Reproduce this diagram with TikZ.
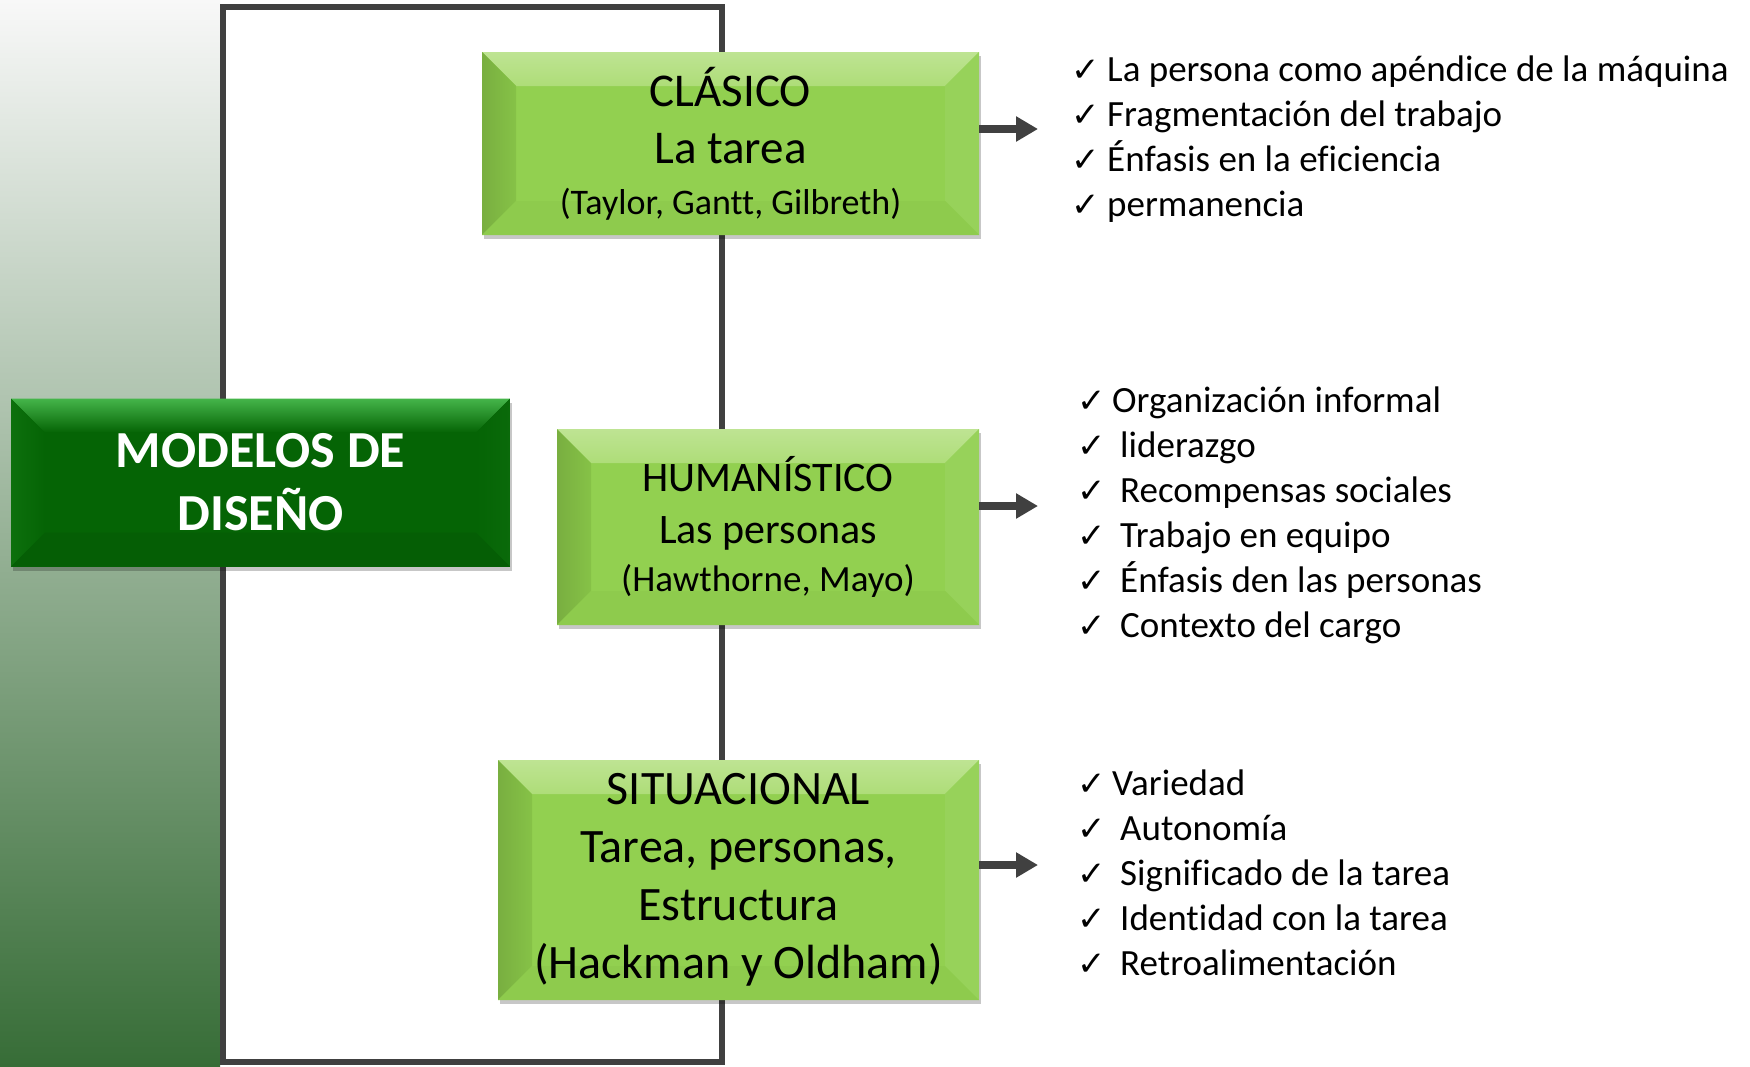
\documentclass[tikz,border=0pt]{standalone}
\usepackage{fontspec}
\setmainfont{Carlito}[Ligatures=NoCommon]
\newfontfamily\checkfont{DejaVu Sans}
\usetikzlibrary{arrows.meta, shadows}

\definecolor{hoja}{HTML}{92D050}
\definecolor{hojasup}{HTML}{AEDD78}
\definecolor{hojaizq}{HTML}{86C247}
\definecolor{hojader}{HTML}{97D25A}
\definecolor{hojainf}{HTML}{8ECB4D}
\definecolor{bosque}{HTML}{056405}
\definecolor{bosquesup}{HTML}{45B54A}
\definecolor{bosqueizq}{HTML}{0D700D}
\definecolor{bosqueder}{HTML}{0A6A0A}
\definecolor{bosqueinf}{HTML}{055E05}
\definecolor{marco}{HTML}{404040}
\definecolor{franjasup}{HTML}{F8F8F8}
\definecolor{franjainf}{HTML}{376D37}

\newlength{\bevw}\setlength{\bevw}{34pt}
\newcommand{\chk}[1][36pt]{\makebox[#1][l]{\checkfont\fontsize{34}{34}\selectfont ✓}}

\tikzset{
    bevel/.style n args={4}{path picture={
        \coordinate (bnw) at (path picture bounding box.north west);
        \coordinate (bne) at (path picture bounding box.north east);
        \coordinate (bsw) at (path picture bounding box.south west);
        \coordinate (bse) at (path picture bounding box.south east);
        \path[#1] (bnw) -- (bne) -- ([shift={(-\bevw,-\bevw)}]bne) -- ([shift={(\bevw,-\bevw)}]bnw) -- cycle;
        \path[#2] (bnw) -- ([shift={(\bevw,-\bevw)}]bnw) -- ([shift={(\bevw,\bevw)}]bsw) -- (bsw) -- cycle;
        \path[#3] (bne) -- ([shift={(-\bevw,-\bevw)}]bne) -- ([shift={(-\bevw,\bevw)}]bse) -- (bse) -- cycle;
        \path[#4] (bsw) -- ([shift={(\bevw,\bevw)}]bsw) -- ([shift={(-\bevw,\bevw)}]bse) -- (bse) -- cycle;
    }},
    caja/.style={rectangle, inner sep=0pt, align=center,
        drop shadow={shadow xshift=2pt, shadow yshift=-4pt, fill=black, opacity=.22}},
    verde/.style={caja, fill=hoja,
        bevel={top color=hojasup!80!white, bottom color=hojasup}{left color=hojaizq!90!black, right color=hojaizq}{fill=hojader}{fill=hojainf}},
    oscuro/.style={caja, fill=bosque,
        bevel={top color=bosquesup, bottom color=bosque}{left color=bosqueizq, right color=bosque}{left color=bosque, right color=bosqueder}{fill=bosqueinf},
        text=white, font=\bfseries\fontsize{52}{63}\selectfont},
    flecha/.style={draw=marco, line width=8pt, -{Triangle[length=22pt, width=24pt]}},
    item/.style={anchor=base west, inner sep=0pt, font=\fontsize{37}{45}\selectfont},
}

\begin{document}
\begin{tikzpicture}[x=1pt, y=1pt]
    \useasboundingbox (0,0) rectangle (1750,-1066);
    % fondo y marco
    \shade[top color=franjasup, bottom color=franjainf] (0,0) rectangle (220,-1066);
    \draw[marco, line width=6.5pt] (223,-7) rectangle (722,-1062);

    % cajas
    \node[oscuro, minimum width=499pt, minimum height=168pt] (modelos) at (260.5,-482.5)
        {MODELOS DE\\ DISEÑO};
    \node[verde, minimum width=497pt, minimum height=183pt, font=\fontsize{47}{57}\selectfont] (clasico) at (730.5,-143.5)
        {CLÁSICO\\ La tarea\\[-6pt] {\fontsize{36}{44}\selectfont (Taylor, Gantt, Gilbreth)}};
    \node[verde, minimum width=422pt, minimum height=196pt, font=\fontsize{42}{52}\selectfont] (humanistico) at (768,-527)
        {HUMANÍSTICO\\ Las personas\\[-4pt] {\fontsize{37}{44}\selectfont (Hawthorne, Mayo)}};
    \node[verde, minimum width=481pt, minimum height=240pt, font=\fontsize{48}{58}\selectfont] (situacional) at (738.5,-880)
        {SITUACIONAL\\ Tarea, personas,\\ Estructura\\ (Hackman y Oldham)};

    % flechas
    \coordinate (fclasico) at (1038,-129);
    \coordinate (fhumanistico) at (1038,-506);
    \coordinate (fsituacional) at (1038,-865);
    \draw[flecha] (clasico.east |- fclasico) -- (fclasico);
    \draw[flecha] (humanistico.east |- fhumanistico) -- (fhumanistico);
    \draw[flecha] (situacional.east |- fsituacional) -- (fsituacional);

    % listas
    \foreach \t [count=\i] in {La persona como apéndice de la máquina, Fragmentación del trabajo,
        Énfasis en la eficiencia, permanencia}
        \node[item] (lc\i) at (1071,{-81-45*(\i-1)}) {\chk\t};
    \foreach \t [count=\i] in {Organización informal, liderazgo, Recompensas sociales,
        Trabajo en equipo, Énfasis den las personas, Contexto del cargo}
        \node[item] (lh\i) at (1077,{-412-45*(\i-1)}) {\ifnum\i=1 \chk[35pt]\else\chk[43pt]\fi\t};
    \foreach \t [count=\i] in {Variedad, Autonomía, Significado de la tarea,
        Identidad con la tarea, Retroalimentación}
        \node[item] (ls\i) at (1077,{-795-45*(\i-1)}) {\ifnum\i=1 \chk[35pt]\else\chk[43pt]\fi\t};
\end{tikzpicture}
\end{document}
